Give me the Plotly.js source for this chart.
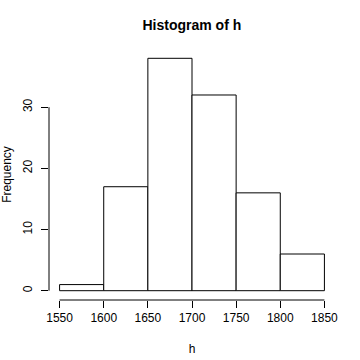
<!DOCTYPE html>
<html><head><meta charset="utf-8">
<script src="https://cdn.plot.ly/plotly-3.0.1.min.js"></script>
<style>html,body{margin:0;padding:0;background:#fff;}</style>
</head><body>
<div id="chart" style="width:360px;height:360px;"></div>
<script>
const binStarts = [1550, 1600, 1650, 1700, 1750, 1800];
const binWidth = 50;
const counts = [1, 17, 38, 32, 16, 6];
const xTicks = [1550, 1600, 1650, 1700, 1750, 1800, 1850];
const yTicks = [0, 10, 20, 30];

const mids = binStarts.map(s => s + binWidth / 2);
function mkFont(size) { return {family: 'Liberation Sans, Arial, sans-serif', size: size, color: '#000000'}; }

const trace = {
  type: 'bar', x: mids, y: counts, width: binWidth,
  marker: {color: '#ffffff', line: {color: '#000', width: 1}},
  hoverinfo: 'none'
};

const layout = {
  width: 360, height: 360,
  margin: {l: 49, r: 25, t: 49, b: 60},
  paper_bgcolor: '#fff', plot_bgcolor: '#fff',
  showlegend: false,
  font: mkFont(12),
  title: {text: '<b>Histogram of h</b>', x: 0.533, xanchor: 'center', y: 0.93, yanchor: 'middle',
          font: mkFont(14)},
  bargap: 0,
  xaxis: {range: [1538, 1862], showgrid: false, zeroline: false, showline: false,
          tickmode: 'array', tickvals: xTicks, ticktext: xTicks.map(String),
          ticks: 'outside', ticklen: 7, tickcolor: '#000', tickwidth: 1,
          tickfont: mkFont(12),
          title: {text: 'h', font: mkFont(12), standoff: 20}},
  yaxis: {range: [-1.52, 39.52], showgrid: false, zeroline: false, showline: false,
          tickmode: 'array', tickvals: yTicks, ticktext: yTicks.map(String),
          ticks: 'outside', ticklen: 7, tickcolor: '#000', tickwidth: 1,
          tickangle: -90, tickfont: mkFont(12), ticklabelstandoff: 4,
          title: {text: 'Frequency', font: mkFont(12), standoff: 8}},
  shapes: [
    {type: 'line', xref: 'x', yref: 'paper', x0: xTicks[0], x1: xTicks[xTicks.length-1], y0: 0, y1: 0,
     line: {color: '#000', width: 1}},
    {type: 'line', xref: 'paper', yref: 'y', x0: 0, x1: 0, y0: yTicks[0], y1: yTicks[yTicks.length-1],
     line: {color: '#000', width: 1}}
  ]
};

Plotly.newPlot('chart', [trace], layout, {staticPlot: true, displayModeBar: false});
</script>
</body></html>
